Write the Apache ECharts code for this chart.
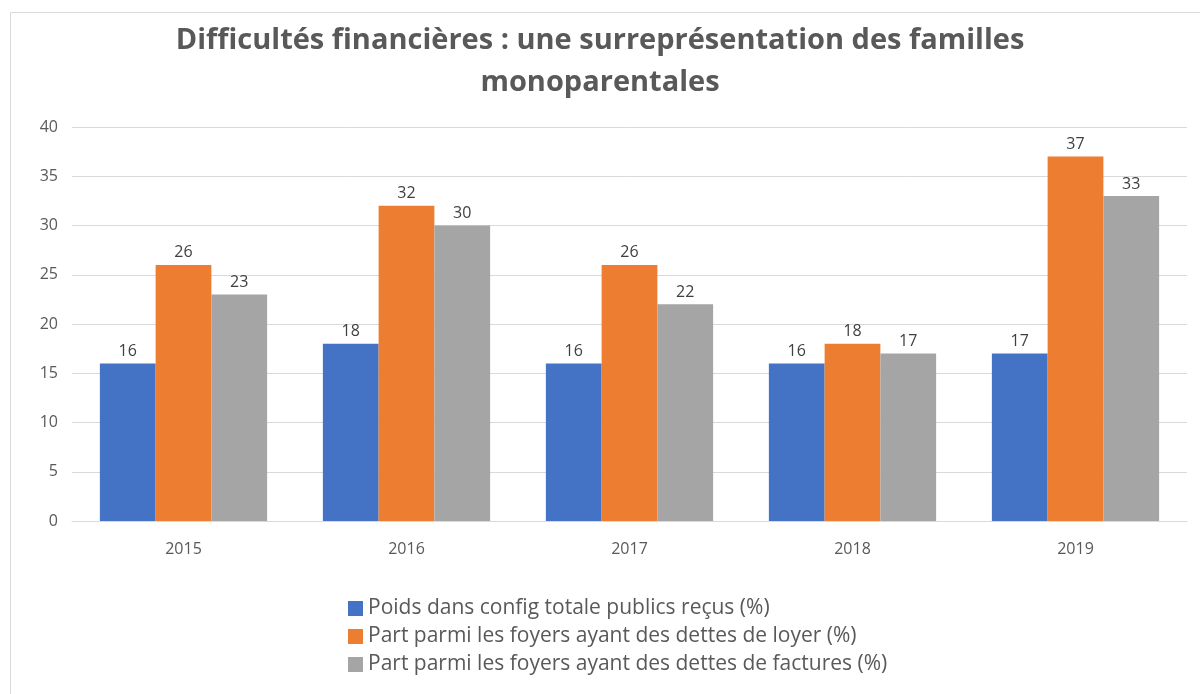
<!DOCTYPE html>
<html>
<head>
<meta charset="utf-8">
<script src="https://cdn.jsdelivr.net/npm/echarts@6/dist/echarts.min.js"></script>
<style>
  html, body { margin: 0; padding: 0; background: #fff; }
  #chart { width: 1200px; height: 694px; }
</style>
</head>
<body>
<div id="chart"></div>
<script>
// données
const years = ['2015', '2016', '2017', '2018', '2019']
const poids = [16, 18, 16, 16, 17]
const loyer = [26, 32, 26, 18, 37]
const factures = [23, 30, 22, 17, 33]
const seriesNames = [
  'Poids dans config totale publics reçus (%)',
  'Part parmi les foyers ayant des dettes de loyer (%)',
  'Part parmi les foyers ayant des dettes de factures (%)'
]
const colors = ['#4472C4', '#ED7D31', '#A5A5A5']
const font = 'Open Sans, Noto Sans, sans-serif'

const chart = echarts.init(document.getElementById('chart'))

function barSeries(name, data) {
  return {
    name: name,
    type: 'bar',
    data: data,
    barGap: '0%',
    barCategoryGap: '25%',
    label: {
      show: true,
      position: 'top',
      distance: 4,
      color: '#404040',
      fontSize: 16,
      fontFamily: font
    }
  }
}

const option = {
  color: colors,
  animation: false,
  title: {
    text: 'Difficultés financières : une surreprésentation des familles\nmonoparentales',
    left: 'center',
    top: 15,
    textStyle: {
      color: '#595959',
      fontSize: 29,
      fontWeight: 'bold',
      fontFamily: font,
      lineHeight: 42
    }
  },
  graphic: [{
    type: 'rect',
    shape: { x: 10.5, y: 12.5, width: 1200, height: 700 },
    style: { fill: 'none', stroke: '#d9d9d9', lineWidth: 1 },
    silent: true
  }],
  legend: {
    orient: 'vertical',
    left: 343,
    top: 593,
    itemWidth: 15,
    itemHeight: 15,
    itemGap: 7,
    icon: 'rect',
    textStyle: { color: '#595959', fontSize: 21, fontFamily: font },
    data: seriesNames
  },
  grid: { left: 72, right: 13, top: 127, bottom: 173 },
  xAxis: {
    type: 'category',
    data: years,
    axisLine: { lineStyle: { color: '#d9d9d9' } },
    axisTick: { show: false },
    axisLabel: { color: '#595959', fontSize: 16, fontFamily: font, margin: 20 }
  },
  yAxis: {
    type: 'value',
    min: 0,
    max: 40,
    interval: 5,
    axisLine: { show: false },
    axisTick: { show: false },
    splitLine: { lineStyle: { color: '#d9d9d9' } },
    axisLabel: { color: '#595959', fontSize: 16, fontFamily: font, margin: 14 }
  },
  series: [
    barSeries(seriesNames[0], poids),
    barSeries(seriesNames[1], loyer),
    barSeries(seriesNames[2], factures)
  ]
}
chart.setOption(option)
</script>
</body>
</html>
